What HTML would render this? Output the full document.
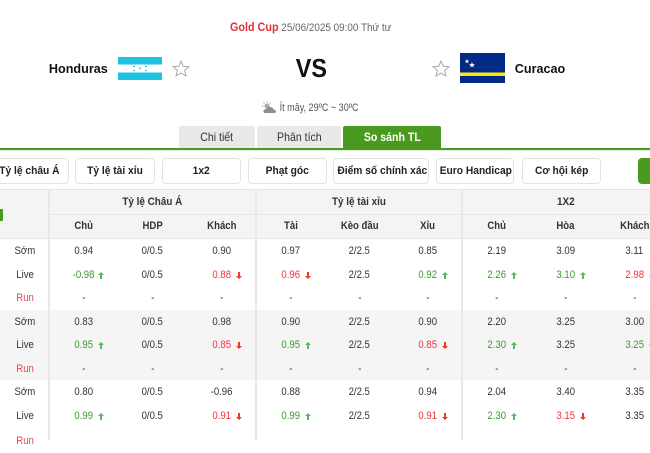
<!DOCTYPE html>
<html><head><meta charset="utf-8">
<style>
*{margin:0;padding:0;box-sizing:border-box}
html,body{width:650px;height:440px;overflow:hidden;background:#fff;font-family:"Liberation Sans","Noto Sans CJK SC",sans-serif;color:#333}
.c{position:absolute;text-align:center;white-space:nowrap}
.s{display:inline-block}
.tab{position:absolute;top:126px;height:23px;background:#e9e9e9;line-height:23px;text-align:center;font-size:12px;color:#333;border-radius:2px 2px 0 0}
.btn{position:absolute;top:158px;height:26px;border:1px solid #e3e3e3;border-radius:4px;background:#fff;line-height:24px;text-align:center;font-size:11px;font-weight:bold;color:#222;white-space:nowrap}
.btn span{display:inline-block;transform:scaleX(.93)}
.vl{position:absolute;top:189px;width:2px;height:251px;background:#e8e8e8}
.r{position:absolute;left:0;width:650px;height:24px;line-height:24px;font-size:11px;color:#333}
.r>div{position:absolute;top:0;height:24px;text-align:center;white-space:nowrap}
.r span{display:inline-block;transform:scaleX(.87)}
.a{left:0;width:50px}.b{left:49px;width:69px}.k{left:118px;width:69px}.d{left:187px;width:69px}.e{left:256px;width:69px}.f{left:325px;width:69px}.g{left:394px;width:68px}.h{left:462px;width:69px}.i{left:531px;width:69px}.j{left:600px;width:69px}
.gr{color:#3a9a2d}.rd{color:#f5303a}.run{color:#e5484d}
.u,.n{position:absolute;top:9px;left:calc(50% + 14px);width:6px;height:7px}
.u:before{content:"";position:absolute;left:0;top:0;border-left:3px solid transparent;border-right:3px solid transparent;border-bottom:3px solid #5cb85c}
.u:after{content:"";position:absolute;left:2px;top:3px;width:2px;height:4px;background:#5cb85c}
.n:before{content:"";position:absolute;left:0;top:4px;border-left:3px solid transparent;border-right:3px solid transparent;border-top:3px solid #f03a1a}
.n:after{content:"";position:absolute;left:2px;top:0;width:2px;height:4px;background:#f03a1a}
.hd{position:absolute;font-size:11px;font-weight:bold;color:#333;text-align:center;white-space:nowrap}
.hd span{display:inline-block;transform:scaleX(.9)}
</style></head><body>

<!-- top header -->
<div class="c" style="left:161px;width:300px;top:20px;height:14px;line-height:14px;font-size:11px;color:#666">
<span class="s" style="transform:scaleX(.9)"><b style="color:#e2313a;font-size:12px">Gold Cup</b> 25/06/2025 09:00 Thứ tư</span></div>

<!-- teams -->
<div class="c" style="left:28px;width:100px;top:61px;line-height:16px;font-size:13px;font-weight:bold;color:#111"><span class="s" style="transform:scaleX(.97)">Honduras</span></div>
<svg style="position:absolute;left:118px;top:57px" width="44" height="23">
<rect x="0" y="0" width="44" height="23" fill="#fff"/>
<rect x="0" y="0" width="44" height="7.5" fill="#1fc3e2"/>
<rect x="0" y="15.5" width="44" height="7.5" fill="#1fc3e2"/>
<circle cx="16" cy="9.5" r=".9" fill="#1fc3e2"/><circle cx="28" cy="9.5" r=".9" fill="#1fc3e2"/>
<circle cx="22" cy="11.5" r=".9" fill="#1fc3e2"/>
<circle cx="16" cy="13.5" r=".9" fill="#1fc3e2"/><circle cx="28" cy="13.5" r=".9" fill="#1fc3e2"/>
</svg>
<svg style="position:absolute;left:172px;top:60px" width="18" height="17"><polygon points="9,1 11.2,6.3 17,6.7 12.6,10.4 14,16 9,13 4,16 5.4,10.4 1,6.7 6.8,6.3" fill="none" stroke="#a8a8a8" stroke-width="1"/></svg>

<div class="c" style="left:261px;width:100px;top:54px;line-height:28px;font-size:26px;font-weight:bold;color:#111"><span class="s" style="transform:scaleX(.9)">VS</span></div>

<svg style="position:absolute;left:432px;top:60px" width="18" height="17"><polygon points="9,1 11.2,6.3 17,6.7 12.6,10.4 14,16 9,13 4,16 5.4,10.4 1,6.7 6.8,6.3" fill="none" stroke="#a8a8a8" stroke-width="1"/></svg>
<svg style="position:absolute;left:460px;top:53px" width="45" height="30">
<rect width="45" height="30" fill="#012a87"/>
<rect y="19.5" width="45" height="3.5" fill="#f9e814"/>
<polygon points="7,6 7.6,7.6 9.3,7.6 8,8.6 8.4,10.2 7,9.2 5.6,10.2 6,8.6 4.7,7.6 6.4,7.6" fill="#fff"/>
<polygon points="12,9 12.8,11.1 15,11.1 13.3,12.4 13.9,14.5 12,13.2 10.1,14.5 10.7,12.4 9,11.1 11.2,11.1" fill="#fff"/>
</svg>
<div class="c" style="left:490px;width:100px;top:61px;line-height:16px;font-size:13px;font-weight:bold;color:#111"><span class="s" style="transform:scaleX(.97)">Curacao</span></div>

<!-- weather -->
<svg style="position:absolute;left:262px;top:101px" width="15" height="13">
<circle cx="5" cy="5" r="2.6" fill="#aaa"/>
<g stroke="#aaa" stroke-width="1"><line x1="5" y1="0" x2="5" y2="1.5"/><line x1="0" y1="5" x2="1.5" y2="5"/><line x1="1.5" y1="1.5" x2="2.5" y2="2.5"/><line x1="8.5" y1="1.5" x2="7.5" y2="2.5"/></g>
<path d="M3 12 Q1 12 1.5 9.8 Q2 8 4 8.3 Q5 5.5 8.5 6 Q11.5 6.5 11.5 8.6 Q14 8.6 14 10.4 Q14 12 12 12 Z" fill="#8e8e8e"/>
</svg>
<div class="c" style="left:269px;width:100px;top:101px;line-height:14px;font-size:11px;color:#555"><span class="s" style="transform:scaleX(.82)">Ít mây, 29ºC ~ 30ºC</span></div>

<!-- tabs -->
<div class="tab" style="left:179px;width:76px"><span class="s" style="transform:scaleX(.88)">Chi tiết</span></div>
<div class="tab" style="left:257px;width:84px"><span class="s" style="transform:scaleX(.88)">Phân tích</span></div>
<div class="tab" style="left:343px;width:98px;background:#4b9a20;color:#fff;font-weight:bold"><span class="s" style="transform:scaleX(.88)">So sánh TL</span></div>
<div style="position:absolute;left:0;top:148px;width:650px;height:2px;background:#4b9a20"></div>
<div style="position:absolute;left:0;top:150px;width:650px;height:1px;background:#e4efe0"></div>

<!-- filter buttons -->
<div class="btn" style="left:-11px;width:80px"><span>Tỷ lệ châu Á</span></div>
<div class="btn" style="left:75px;width:80px"><span>Tỷ lệ tài xỉu</span></div>
<div class="btn" style="left:162px;width:79px"><span>1x2</span></div>
<div class="btn" style="left:248px;width:79px"><span>Phạt góc</span></div>
<div class="btn" style="left:333px;width:96px"><span>Điểm số chính xác</span></div>
<div class="btn" style="left:436px;width:78px"><span>Euro Handicap</span></div>
<div class="btn" style="left:522px;width:79px"><span>Cơ hội kép</span></div>
<div style="position:absolute;left:638px;top:158px;width:30px;height:26px;background:#4b9a20;border-radius:4px"></div>

<!-- table header -->
<div style="position:absolute;left:0;top:189px;width:650px;height:1px;background:#e4e4e4"></div>
<div style="position:absolute;left:0;top:190px;width:650px;height:48px;background:#f4f4f4"></div>
<div style="position:absolute;left:49px;top:214px;width:601px;height:1px;background:#e6e6e6"></div>
<div style="position:absolute;left:0;top:238px;width:650px;height:1px;background:#e6e6e6"></div>
<div style="position:absolute;left:0;top:209px;width:3px;height:12px;background:#4b9a20"></div>

<div class="hd" style="left:49px;width:207px;top:195px;line-height:14px"><span>Tỷ lệ Châu Á</span></div>
<div class="hd" style="left:256px;width:206px;top:195px;line-height:14px"><span>Tỷ lệ tài xỉu</span></div>
<div class="hd" style="left:462px;width:207px;top:195px;line-height:14px"><span>1X2</span></div>

<div class="r" style="top:214px;font-weight:bold">
<div class="b"><span>Chủ</span></div><div class="k"><span>HDP</span></div><div class="d"><span>Khách</span></div>
<div class="e"><span>Tài</span></div><div class="f"><span>Kèo đầu</span></div><div class="g"><span>Xỉu</span></div>
<div class="h"><span>Chủ</span></div><div class="i"><span>Hòa</span></div><div class="j"><span>Khách</span></div>
</div>

<!-- group backgrounds -->
<div style="position:absolute;left:0;top:310px;width:650px;height:70px;background:#f5f5f5"></div>

<!-- group 1 -->
<div class="r" style="top:239px">
<div class="a"><span>Sớm</span></div><div class="b"><span>0.94</span></div><div class="k"><span>0/0.5</span></div><div class="d"><span>0.90</span></div>
<div class="e"><span>0.97</span></div><div class="f"><span>2/2.5</span></div><div class="g"><span>0.85</span></div>
<div class="h"><span>2.19</span></div><div class="i"><span>3.09</span></div><div class="j"><span>3.11</span></div>
</div>
<div class="r" style="top:263px">
<div class="a"><span>Live</span></div><div class="b gr"><span>-0.98</span><i class="u"></i></div><div class="k"><span>0/0.5</span></div><div class="d rd"><span>0.88</span><i class="n"></i></div>
<div class="e rd"><span>0.96</span><i class="n"></i></div><div class="f"><span>2/2.5</span></div><div class="g gr"><span>0.92</span><i class="u"></i></div>
<div class="h gr"><span>2.26</span><i class="u"></i></div><div class="i gr"><span>3.10</span><i class="u"></i></div><div class="j rd"><span>2.98</span><i class="n"></i></div>
</div>
<div class="r" style="top:286px">
<div class="a run"><span>Run</span></div><div class="b"><span>-</span></div><div class="k"><span>-</span></div><div class="d"><span>-</span></div>
<div class="e"><span>-</span></div><div class="f"><span>-</span></div><div class="g"><span>-</span></div>
<div class="h"><span>-</span></div><div class="i"><span>-</span></div><div class="j"><span>-</span></div>
</div>

<!-- group 2 -->
<div class="r" style="top:310px">
<div class="a"><span>Sớm</span></div><div class="b"><span>0.83</span></div><div class="k"><span>0/0.5</span></div><div class="d"><span>0.98</span></div>
<div class="e"><span>0.90</span></div><div class="f"><span>2/2.5</span></div><div class="g"><span>0.90</span></div>
<div class="h"><span>2.20</span></div><div class="i"><span>3.25</span></div><div class="j"><span>3.00</span></div>
</div>
<div class="r" style="top:333px">
<div class="a"><span>Live</span></div><div class="b gr"><span>0.95</span><i class="u"></i></div><div class="k"><span>0/0.5</span></div><div class="d rd"><span>0.85</span><i class="n"></i></div>
<div class="e gr"><span>0.95</span><i class="u"></i></div><div class="f"><span>2/2.5</span></div><div class="g rd"><span>0.85</span><i class="n"></i></div>
<div class="h gr"><span>2.30</span><i class="u"></i></div><div class="i"><span>3.25</span></div><div class="j gr"><span>3.25</span><i class="u"></i></div>
</div>
<div class="r" style="top:357px">
<div class="a run"><span>Run</span></div><div class="b"><span>-</span></div><div class="k"><span>-</span></div><div class="d"><span>-</span></div>
<div class="e"><span>-</span></div><div class="f"><span>-</span></div><div class="g"><span>-</span></div>
<div class="h"><span>-</span></div><div class="i"><span>-</span></div><div class="j"><span>-</span></div>
</div>

<!-- group 3 -->
<div class="r" style="top:380px">
<div class="a"><span>Sớm</span></div><div class="b"><span>0.80</span></div><div class="k"><span>0/0.5</span></div><div class="d"><span>-0.96</span></div>
<div class="e"><span>0.88</span></div><div class="f"><span>2/2.5</span></div><div class="g"><span>0.94</span></div>
<div class="h"><span>2.04</span></div><div class="i"><span>3.40</span></div><div class="j"><span>3.35</span></div>
</div>
<div class="r" style="top:404px">
<div class="a"><span>Live</span></div><div class="b gr"><span>0.99</span><i class="u"></i></div><div class="k"><span>0/0.5</span></div><div class="d rd"><span>0.91</span><i class="n"></i></div>
<div class="e gr"><span>0.99</span><i class="u"></i></div><div class="f"><span>2/2.5</span></div><div class="g rd"><span>0.91</span><i class="n"></i></div>
<div class="h gr"><span>2.30</span><i class="u"></i></div><div class="i rd"><span>3.15</span><i class="n"></i></div><div class="j"><span>3.35</span></div>
</div>
<div class="r" style="top:429px">
<div class="a run"><span>Run</span></div>
</div>

<!-- vertical separators -->
<div class="vl" style="left:48px"></div>
<div class="vl" style="left:255px"></div>
<div class="vl" style="left:461px"></div>

</body></html>
